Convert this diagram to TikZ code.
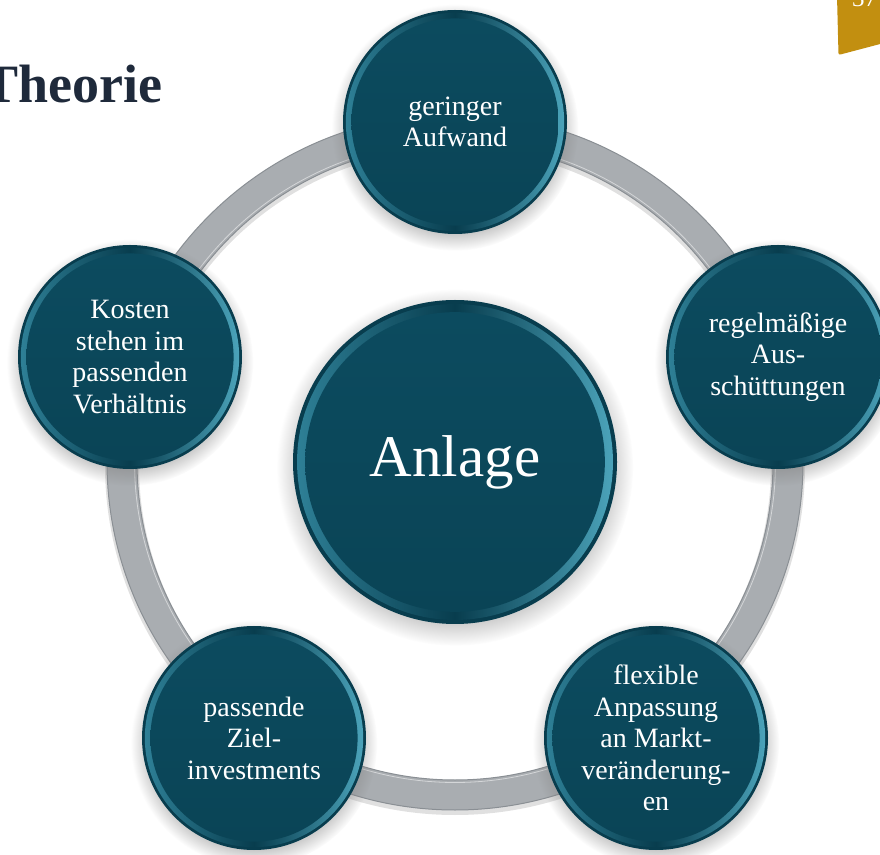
\documentclass[tikz,border=0pt]{standalone}
\usepackage{fontspec}
\setmainfont{Liberation Serif}
\usetikzlibrary{shadows,calc}
\definecolor{tealdark}{HTML}{083D4E}
\definecolor{tealmain}{HTML}{0C4B5F}
\definecolor{tealbot}{HTML}{0A4456}
\definecolor{bevL}{HTML}{2F8198}
\definecolor{bevR}{HTML}{4DA6BD}
\definecolor{ringgray}{HTML}{A9ADB1}
\definecolor{ringedge}{HTML}{8A8F94}
\definecolor{titlecol}{HTML}{1F2A3B}
\definecolor{gold}{HTML}{C28F10}
\tikzset{
  bub/.style={circle, minimum size={2*#1}, inner sep=0pt, fill=tealdark,
    circular drop shadow={shadow xshift=0pt, shadow yshift=-5pt, opacity=.45},
    text=white, align=center, font=\fontsize{28}{31.5}\selectfont,
    path picture={
      \shade[left color=bevL, right color=bevR, middle color=tealdark]
        (path picture bounding box.center) circle ({#1*0.975});
      \shade[top color=tealmain, bottom color=tealbot]
        (path picture bounding box.center) circle ({#1*0.925});
    }},
  ringband/.style={line width=30pt, ringgray},
  ringline/.style={ringedge, line width=1pt},
}
\begin{document}
\begin{tikzpicture}[x=1pt,y=1pt]
\useasboundingbox (0,0) rectangle (880,854);
\clip (0,0) rectangle (880,854);
\coordinate (C) at (455,392);
% ring
\draw[line width=34pt, black, opacity=.12] ([yshift=-3pt]C) circle (333);
\draw[ringband] (C) circle (333);
\draw[ringline] (C) circle (318) (C) circle (348);
\draw[white, opacity=.5, line width=.8pt] (C) circle (320.5);
% title
\node[anchor=base east, font=\fontsize{54}{60}\selectfont\bfseries, text=titlecol, inner sep=0pt] (title) at (163,751) {Theorie};
% gold tab
\fill[gold, rounded corners=2pt] (837,858) -- (838.5,799) -- (884,811) -- (884,858) -- cycle;
\node[anchor=base west, text=white, font=\fontsize{25}{30}\selectfont, inner sep=0pt] (pg) at (852,847) {37};
% bubbles
\node[bub=162, font=\fontsize{59}{64}\selectfont] (anlage) at (C) {Anlage};
\node[bub=112] (top) at (455,732) {geringer\\Aufwand};
\node[bub=112] (right) at (778,497) {regelmäßige\\Aus-\\schüttungen};
\node[bub=112] (br) at (656,116) {flexible\\Anpassung\\an Markt-\\veränderung-\\en};
\node[bub=112] (bl) at (254,116) {passende\\Ziel-\\investments};
\node[bub=112] (left) at (130,497) {Kosten\\stehen im\\passenden\\Verhältnis};
\end{tikzpicture}
\end{document}
